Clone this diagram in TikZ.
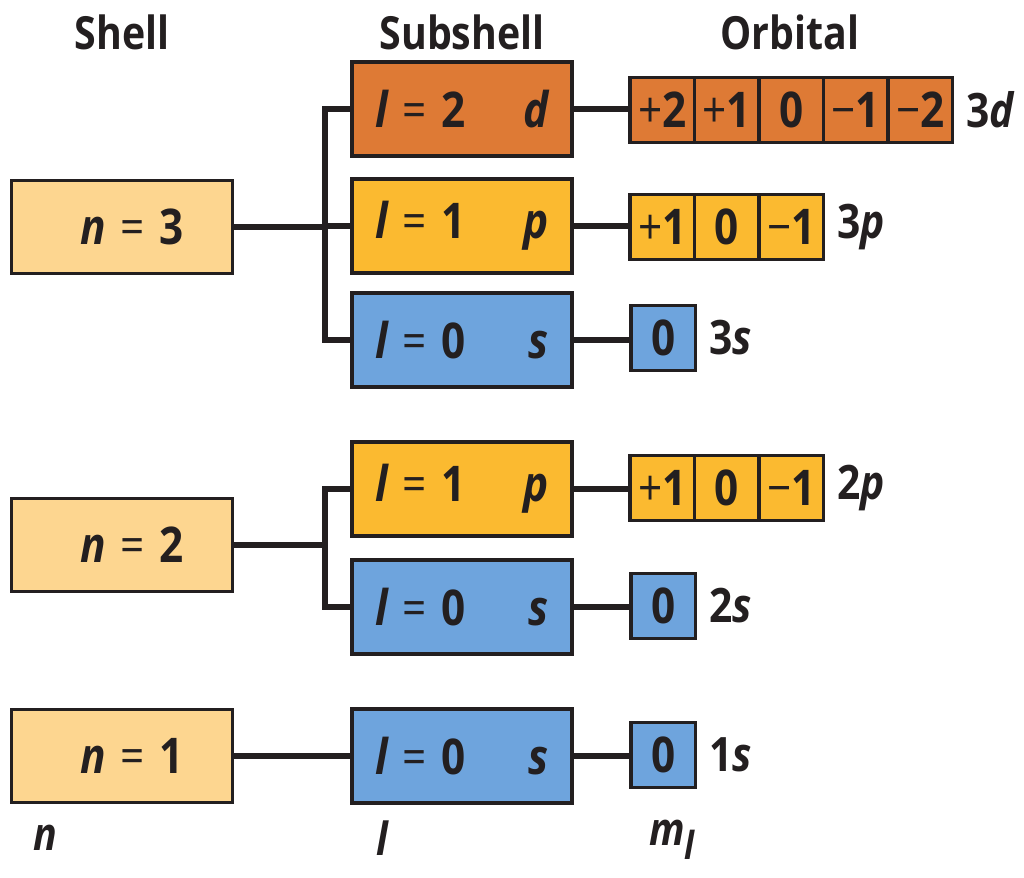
\documentclass[tikz,border=0pt]{standalone}
\usepackage{fontspec}
\setmainfont[FakeStretch=0.86]{Open Sans}
\definecolor{ink}{HTML}{231F20}
\definecolor{peach}{HTML}{FDD690}
\definecolor{dcol}{HTML}{DE7A35}
\definecolor{pcol}{HTML}{FBBA30}
\definecolor{scol}{HTML}{6EA4DD}
\newcommand{\qi}[1]{{\bfseries\itshape #1}}
\newcommand{\eqs}{\hspace{0.3em}{\mdseries =}\hspace{0.3em}}
\newcommand{\pl}{{\mdseries +}}
\newcommand{\mi}{{\mdseries \char"2212}}
\begin{document}
\begin{tikzpicture}[x=0.02cm,y=-0.02cm,
  every node/.style={font=\bfseries\fontsize{26}{30}\selectfont, text=ink},
  boxtext/.style={font=\bfseries\fontsize{28}{32}\selectfont},
  shellbox/.style={boxtext, draw=ink, line width=2.1pt, fill=peach, minimum width=4.42cm, minimum height=1.86cm, inner sep=0pt},
  subbox/.style={boxtext, draw=ink, line width=2.1pt, minimum width=4.4cm, minimum height=1.88cm, inner sep=0pt},
  cell/.style={draw=ink, line width=2.1pt, minimum width=1.29cm, minimum height=1.3cm, inner sep=0pt, outer sep=0pt, anchor=west, font=\bfseries\fontsize{28}{30}\selectfont},
  conn/.style={draw=ink, line width=2.9pt},
  head/.style={font=\bfseries\fontsize{26}{30}\selectfont},
  orb/.style={anchor=west, font=\bfseries\fontsize{27}{30}\selectfont}
]
\useasboundingbox (0,0) rectangle (1024,878);

% headers
\node[head] (hShell) at (122,32) {Shell};
\node[head] (hSub) at (462,32) {Subshell};
\node[head] (hOrb) at (790,32) {Orbital};

% shells
\node[shellbox] (n3) at (122,227) {\hspace{0.4cm}\qi{n}\eqs 3};
\node[shellbox] (n2) at (122,545) {\hspace{0.4cm}\qi{n}\eqs 2};
\node[shellbox] (n1) at (122,756) {\hspace{0.4cm}\qi{n}\eqs 1};

% subshells
\node[subbox, fill=dcol] (d3) at (462,109) {\qi{l}\eqs 2\hspace{1.15cm}\qi{d}};
\node[subbox, fill=pcol] (p3) at (462,226) {\qi{l}\eqs 1\hspace{1.15cm}\qi{p}};
\node[subbox, fill=scol] (s3) at (462,340) {\qi{l}\eqs 0\hspace{1.25cm}\qi{s}};
\node[subbox, fill=pcol] (p2) at (462,489) {\qi{l}\eqs 1\hspace{1.15cm}\qi{p}};
\node[subbox, fill=scol] (s2) at (462,607) {\qi{l}\eqs 0\hspace{1.25cm}\qi{s}};
\node[subbox, fill=scol] (s1) at (462,756) {\qi{l}\eqs 0\hspace{1.25cm}\qi{s}};

% orbitals 3d
\node[cell, fill=dcol] (d3a) at (630,110) {\pl 2};
\node[cell, fill=dcol] (d3b) at (d3a.east) {\pl 1};
\node[cell, fill=dcol] (d3c) at (d3b.east) {0};
\node[cell, fill=dcol] (d3d) at (d3c.east) {\mi 1};
\node[cell, fill=dcol] (d3e) at (d3d.east) {\mi 2};
\node[orb] (l3d) at ([xshift=0.16cm]d3e.east) {3\qi{d}};

% 3p
\node[cell, fill=pcol] (p3a) at (630,227) {\pl 1};
\node[cell, fill=pcol] (p3b) at (p3a.east) {0};
\node[cell, fill=pcol] (p3c) at (p3b.east) {\mi 1};
\node[orb] (l3p) at ([xshift=0.16cm]p3c.east) {3\qi{p}};

% 3s
\node[cell, fill=scol] (s3a) at (631,338) {0};
\node[orb] (l3s) at ([xshift=0.16cm]s3a.east) {3\qi{s}};

% 2p
\node[cell, fill=pcol] (p2a) at (630,488) {\pl 1};
\node[cell, fill=pcol] (p2b) at (p2a.east) {0};
\node[cell, fill=pcol] (p2c) at (p2b.east) {\mi 1};
\node[orb] (l2p) at ([xshift=0.16cm]p2c.east) {2\qi{p}};

% 2s
\node[cell, fill=scol] (s2a) at (631,606) {0};
\node[orb] (l2s) at ([xshift=0.16cm]s2a.east) {2\qi{s}};

% 1s
\node[cell, fill=scol] (s1a) at (631,755) {0};
\node[orb] (l1s) at ([xshift=0.16cm]s1a.east) {1\qi{s}};

% bottom labels
\node (bn) at (45,838) {\qi{n}};
\node (bl) at (382,838) {\qi{l}};
\node (bm) at (672,840) {\qi{m}\raisebox{-0.55ex}{\fontsize{22}{24}\selectfont\qi{l}}};

% connectors
\coordinate (j) at (325,0);
\draw[conn] (n3.east) -- (n3.east -| j);
\draw[conn] (d3.west) -- (d3.west -| j) -- (s3.west -| j) -- (s3.west);
\draw[conn] (p3.west) -- (p3.west -| j);
\draw[conn] (n2.east) -- (n2.east -| j);
\draw[conn] (p2.west) -- (p2.west -| j) -- (s2.west -| j) -- (s2.west);
\draw[conn] (n1.east) -- (s1.west);

\draw[conn] (d3.east) -- (d3.east -| d3a.west);
\draw[conn] (p3.east) -- (p3.east -| p3a.west);
\draw[conn] (s3.east) -- (s3.east -| s3a.west);
\draw[conn] (p2.east) -- (p2.east -| p2a.west);
\draw[conn] (s2.east) -- (s2.east -| s2a.west);
\draw[conn] (s1.east) -- (s1.east -| s1a.west);
\end{tikzpicture}
\end{document}
